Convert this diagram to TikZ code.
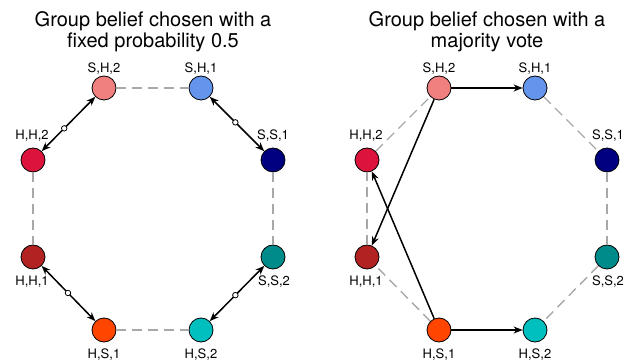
\documentclass[tikz,border=0pt]{standalone}
\usepackage{fontspec}
\setmainfont{TeX Gyre Heros}
\usetikzlibrary{arrows.meta}
\definecolor{lightcoral}{HTML}{F08080}
\definecolor{cornflower}{HTML}{6495ED}
\definecolor{crimson}{HTML}{DC143C}
\definecolor{navyblue}{HTML}{000080}
\definecolor{firebrick}{HTML}{B22222}
\definecolor{tealc}{HTML}{008B8B}
\definecolor{orangered}{HTML}{FF4500}
\definecolor{cyanc}{HTML}{00BFBF}
\definecolor{linkgray}{HTML}{A8A8A8}
\begin{document}
\begin{tikzpicture}[x=1pt,y=-1pt,
  state/.style={circle,draw=black,line width=0.8pt,minimum size=24pt,inner sep=0pt},
  lbl/.style={anchor=base,inner sep=0pt,font=\fontsize{13}{15}\selectfont},
  ttl/.style={anchor=base,inner sep=0pt,font=\fontsize{20}{23}\selectfont},
  link/.style={draw=linkgray,dash pattern=on 10pt off 6pt,line width=1.4pt},
  tip/.tip={Stealth[length=9pt,width=7pt]},
  move/.style={-tip,line width=1.5pt},
  swap/.style={tip-tip,line width=1.5pt},
  mid/.style={circle,draw=black,fill=white,line width=0.8pt,minimum size=5.5pt,inner sep=0pt}
]
\useasboundingbox (0,0) rectangle (632,363);

% ---------- titles ----------
\node[ttl] (t1a) at (153,27) {Group belief chosen with a};
\node[ttl] (t1b) at (153,48) {fixed probability 0.5};
\node[ttl] (t2a) at (487,27) {Group belief chosen with a};
\node[ttl] (t2b) at (487,48) {majority vote};

% ---------- left: fixed probability ----------
\node[state,fill=lightcoral] (SH2L) at (104,88) {};
\node[state,fill=cornflower] (SH1L) at (201,88) {};
\node[state,fill=crimson]    (HH2L) at (33,160) {};
\node[state,fill=navyblue]   (SS1L) at (273,160) {};
\node[state,fill=firebrick]  (HH1L) at (33,257) {};
\node[state,fill=tealc]      (SS2L) at (273,257) {};
\node[state,fill=orangered]  (HS1L) at (104,330) {};
\node[state,fill=cyanc]      (HS2L) at (201,330) {};

\node[lbl] (lSH2L) at (104,73) {S,H,2};
\node[lbl] (lSH1L) at (201,73) {S,H,1};
\node[lbl] (lHH2L) at (32,140) {H,H,2};
\node[lbl] (lSS1L) at (273,140) {S,S,1};
\node[lbl] (lHH1L) at (32,286) {H,H,1};
\node[lbl] (lSS2L) at (274,286) {S,S,2};
\node[lbl] (lHS1L) at (104,359) {H,S,1};
\node[lbl] (lHS2L) at (201,359) {H,S,2};

\draw[link] (SH2L) -- (SH1L);
\draw[link] (HH2L) -- (HH1L);
\draw[link] (SS1L) -- (SS2L);
\draw[link] (HS1L) -- (HS2L);

\draw[swap] (HH2L) -- (SH2L) node[mid,pos=0.42] (mA) {};
\draw[swap] (SH1L) -- (SS1L) node[mid,pos=0.47] (mB) {};
\draw[swap] (HH1L) -- (HS1L) node[mid,pos=0.49] (mC) {};
\draw[swap] (SS2L) -- (HS2L) node[mid,pos=0.53] (mD) {};

% ---------- right: majority vote ----------
\node[state,fill=lightcoral] (SH2R) at (439,88) {};
\node[state,fill=cornflower] (SH1R) at (535,88) {};
\node[state,fill=crimson]    (HH2R) at (367,160) {};
\node[state,fill=navyblue]   (SS1R) at (607,160) {};
\node[state,fill=firebrick]  (HH1R) at (367,257) {};
\node[state,fill=tealc]      (SS2R) at (607,257) {};
\node[state,fill=orangered]  (HS1R) at (439,330) {};
\node[state,fill=cyanc]      (HS2R) at (535,330) {};

\node[lbl] (lSH2R) at (439,73) {S,H,2};
\node[lbl] (lSH1R) at (535,73) {S,H,1};
\node[lbl] (lHH2R) at (366,140) {H,H,2};
\node[lbl] (lSS1R) at (608,140) {S,S,1};
\node[lbl] (lHH1R) at (366,286) {H,H,1};
\node[lbl] (lSS2R) at (608,286) {S,S,2};
\node[lbl] (lHS1R) at (439,359) {H,S,1};
\node[lbl] (lHS2R) at (535,359) {H,S,2};

\draw[link] (HH2R) -- (SH2R);
\draw[link] (SH1R) -- (SS1R);
\draw[link] (SS1R) -- (SS2R);
\draw[link] (SS2R) -- (HS2R);
\draw[link] (HS1R) -- (HH1R);
\draw[link] (HH1R) -- (HH2R);

\draw[move] (SH2R) -- (SH1R);
\draw[move] (HS1R) -- (HS2R);
\draw[move] (SH2R) -- (HH1R);
\draw[move] (HS1R) -- (HH2R);
\end{tikzpicture}
\end{document}
